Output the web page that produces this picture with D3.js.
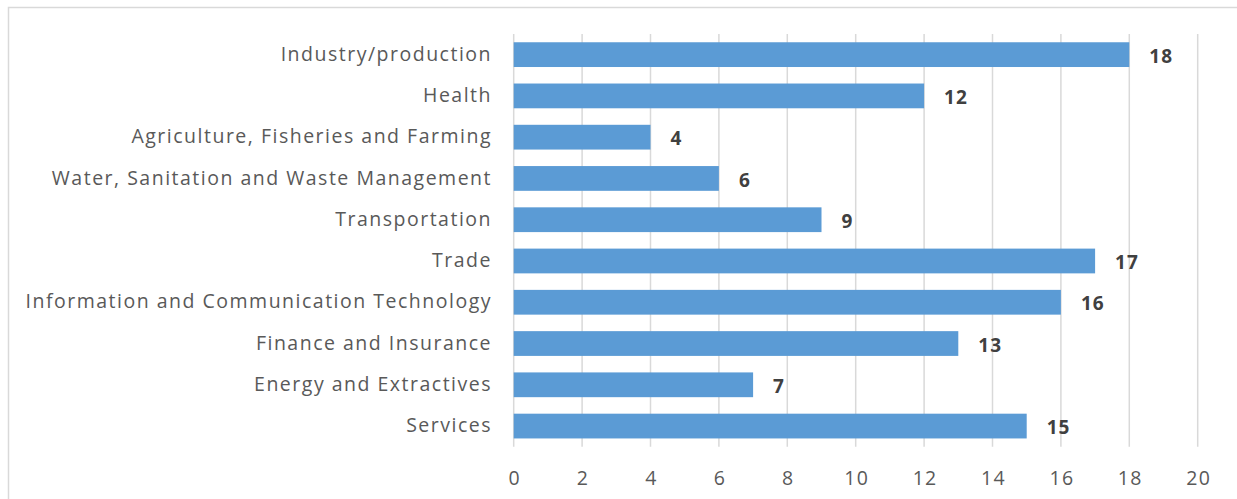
<!DOCTYPE html>
<html><head><meta charset="utf-8">
<script src="https://cdn.jsdelivr.net/npm/d3@7"></script>
<style>body{margin:0;background:#fff;}svg{display:block;}</style>
</head><body>
<svg id="c" width="1237" height="499"></svg>
<script>
const categories = ["Industry/production","Health","Agriculture, Fisheries and Farming","Water, Sanitation and Waste Management","Transportation","Trade","Information and Communication Technology","Finance and Insurance","Energy and Extractives","Services"];
const values = [18,12,4,6,9,17,16,13,7,15];
const xTicks = [0,2,4,6,8,10,12,14,16,18,20];

const svg = d3.select("#c");
const font = "'Open Sans', 'Noto Sans', sans-serif";
svg.append("rect").attr("x",8.5).attr("y",7.5).attr("width",1300).attr("height",600)
  .attr("fill","#fff").attr("stroke","#d9d9d9").attr("stroke-width",1.5);

const x = d3.scaleLinear().domain([0,20]).range([513.7,1197.7]);
const y = d3.scaleBand().domain(categories).range([34,446.7]).paddingInner(0.4).paddingOuter(0.2);

svg.append("g").selectAll("line").data(xTicks).join("line")
  .attr("x1",d=>x(d)).attr("x2",d=>x(d)).attr("y1",34).attr("y2",446.7)
  .attr("stroke","#d9d9d9").attr("stroke-width",1.5);

svg.append("g").selectAll("rect").data(values).join("rect")
  .attr("x",x(0)).attr("y",(d,i)=>y(categories[i]))
  .attr("width",d=>x(d)-x(0)).attr("height",y.bandwidth())
  .attr("fill","#5b9bd5");

svg.append("g").selectAll("text").data(values).join("text")
  .attr("x",d=>x(d)+20).attr("y",(d,i)=>y(categories[i])+y.bandwidth()/2+3)
  .attr("dominant-baseline","middle")
  .attr("font-family",font).attr("font-weight","bold").attr("font-size",19)
  .attr("letter-spacing",1)
  .attr("fill","#404040").text(d=>d);

svg.append("g").selectAll("text").data(categories).join("text")
  .attr("x",492).attr("y",d=>y(d)+y.bandwidth()/2+1)
  .attr("text-anchor","end").attr("dominant-baseline","middle")
  .attr("font-family",font).attr("font-size",19.5).attr("letter-spacing",1.5)
  .attr("fill","#595959").text(d=>d);

svg.append("g").selectAll("text").data(xTicks).join("text")
  .attr("x",d=>x(d)+1).attr("y",480)
  .attr("text-anchor","middle").attr("dominant-baseline","middle")
  .attr("font-family",font).attr("font-size",19.5).attr("letter-spacing",1.3)
  .attr("fill","#595959").text(d=>d);
</script>
</body></html>
